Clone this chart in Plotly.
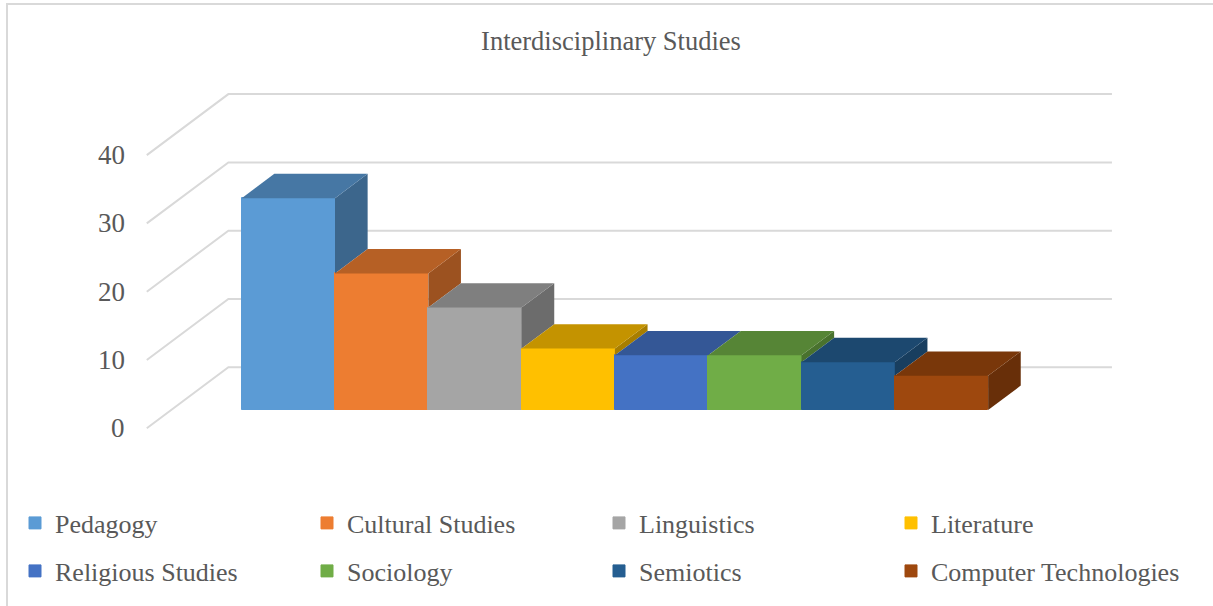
import plotly.graph_objects as go

# ---------------- data ----------------
categories = ["Pedagogy", "Cultural Studies", "Linguistics", "Literature",
              "Religious Studies", "Sociology", "Semiotics", "Computer Technologies"]
values = [31, 20, 15, 9, 8, 8, 7, 5]
y_ticks = [0, 10, 20, 30, 40]
colors = ["#5B9BD5", "#ED7D31", "#A5A5A5", "#FFC000",
          "#4472C4", "#70AD47", "#255E91", "#9E480E"]
title_text = "Interdisciplinary Studies"

# ---------------- layout calibration (pixels) ----------------
W, H = 1213, 606
X0_PX = 241.7      # left edge of first bar front face
BAR_PX = 93.3      # width of one bar
BASE_PX = 410.0    # bar front baseline
UNIT_PX = 6.83     # pixels per value unit
x_range = [(0 - X0_PX) / BAR_PX, (W - X0_PX) / BAR_PX]
y_range = [(BASE_PX - H) / UNIT_PX, BASE_PX / UNIT_PX]

DX = 81.6 / BAR_PX     # full floor depth, x component
DY = 61.0 / UNIT_PX    # full floor depth, y component
Z_FRONT, Z_BACK = 0.3, 0.7
bdx = (Z_BACK - Z_FRONT) * DX
bdy = (Z_BACK - Z_FRONT) * DY
n = len(values)
L_EDGE, R_EDGE = -0.755, n + 0.715

GRID = "#D9D9D9"
TEXT = "#595959"
FONT = "Liberation Serif, Times New Roman, serif"


def shade(hx, f):
    r, g, b = int(hx[1:3], 16), int(hx[3:5], 16), int(hx[5:7], 16)
    return "#%02X%02X%02X" % (int(r * f), int(g * f), int(b * f))


fig = go.Figure()

# front faces (bars)
for i, (cat, v, c) in enumerate(zip(categories, values, colors)):
    fig.add_trace(go.Bar(
        x=[i + 0.5], y=[v], width=1, name=cat,
        marker=dict(color=c, line=dict(color=c, width=1)),
        legend="legend" if i < 4 else "legend2",
        hovertemplate=cat + ": %{y}<extra></extra>",
    ))

# side and top faces (visible parts)
for i, (v, c) in enumerate(zip(values, colors)):
    nxt = values[i + 1] if i + 1 < n else 0
    lo = min(max(nxt, 0), v)
    if lo < v:
        fig.add_trace(go.Scatter(
            x=[i + 1, i + 1 + bdx, i + 1 + bdx, i + 1, i + 1],
            y=[lo, lo + bdy, v + bdy, v, lo],
            mode="lines", fill="toself", fillcolor=shade(c, 0.66),
            line=dict(width=0, color=shade(c, 0.66)),
            showlegend=False, hoverinfo="skip"))
    fig.add_trace(go.Scatter(
        x=[i, i + 1, i + 1 + bdx, i + bdx, i],
        y=[v, v, v + bdy, v + bdy, v],
        mode="lines", fill="toself", fillcolor=shade(c, 0.77),
        line=dict(width=0, color=shade(c, 0.77)),
        showlegend=False, hoverinfo="skip"))

# gridlines on side and back walls
shapes = []
annotations = []
for t in y_ticks:
    fx, fy = L_EDGE - Z_FRONT * DX, t - Z_FRONT * DY
    bx, by = L_EDGE + (1 - Z_FRONT) * DX, t + (1 - Z_FRONT) * DY
    rx = R_EDGE + (1 - Z_FRONT) * DX
    shapes.append(dict(type="path", xref="x", yref="y", layer="below",
                       path=f"M {fx},{fy} L {bx},{by} L {rx},{by}",
                       line=dict(color=GRID, width=2)))
    annotations.append(dict(x=fx, y=fy, xref="x", yref="y", text=str(t),
                            showarrow=False, xanchor="right", yanchor="middle",
                            xshift=-20, font=dict(family=FONT, size=27, color=TEXT)))

# chart border (left and top edges visible)
shapes.append(dict(type="line", xref="paper", yref="paper",
                   x0=7 / W, x1=7 / W, y0=0, y1=1 - 4 / H,
                   line=dict(color=GRID, width=2)))
shapes.append(dict(type="line", xref="paper", yref="paper",
                   x0=6 / W, x1=1, y0=1 - 4 / H, y1=1 - 4 / H,
                   line=dict(color=GRID, width=2)))

legend_common = dict(orientation="h", xanchor="left", yanchor="middle",
                     entrywidth=247, entrywidthmode="pixels",
                     bgcolor="rgba(0,0,0,0)", borderwidth=0,
                     font=dict(family=FONT, size=26, color=TEXT),
                     traceorder="normal")

fig.update_layout(
    width=W, height=H,
    margin=dict(l=0, r=0, t=0, b=0),
    paper_bgcolor="white", plot_bgcolor="white",
    barmode="overlay", bargap=0,
    title=dict(text=title_text, x=611 / W, y=1 - 41 / H,
               xanchor="center", yanchor="middle",
               font=dict(family=FONT, size=26.5, color=TEXT)),
    xaxis=dict(range=x_range, visible=False, fixedrange=True),
    yaxis=dict(range=y_range, visible=False, fixedrange=True),
    legend=dict(x=15 / W, y=1 - 523 / H, **legend_common),
    legend2=dict(x=15 / W, y=1 - 571 / H, **legend_common),
    shapes=shapes,
    annotations=annotations,
)

fig.write_html("out.html")
